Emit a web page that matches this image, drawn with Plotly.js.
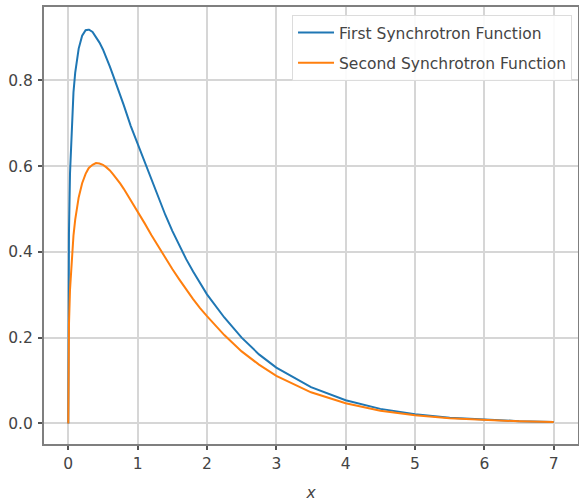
<!DOCTYPE html>
<html>
<head>
<meta charset="utf-8">
<script src="https://cdn.plot.ly/plotly-3.0.1.min.js"></script>
<style>html,body{margin:0;padding:0;background:#fff;}#chart{width:579px;height:504px;}</style>
</head>
<body>
<div id="chart"></div>
<script>
const xValues = [0, 0.001, 0.005, 0.01, 0.025, 0.05, 0.075, 0.1, 0.15, 0.2, 0.25, 0.29, 0.3, 0.35, 0.4, 0.45, 0.5, 0.55, 0.6, 0.65, 0.7, 0.75, 0.8, 0.9, 1.0, 1.1, 1.2, 1.3, 1.4, 1.5, 1.6, 1.7, 1.8, 1.9, 2.0, 2.25, 2.5, 2.75, 3.0, 3.5, 4.0, 4.5, 5.0, 5.5, 6.0, 6.5, 7.0];
const firstFunction = [0, 0.213, 0.358, 0.445, 0.583, 0.702, 0.772, 0.818, 0.874, 0.904, 0.917, 0.918, 0.918, 0.913, 0.901, 0.888, 0.872, 0.853, 0.832, 0.810, 0.788, 0.765, 0.742, 0.694, 0.652, 0.610, 0.566, 0.525, 0.486, 0.449, 0.414, 0.383, 0.354, 0.327, 0.301, 0.247, 0.200, 0.161, 0.130, 0.0845, 0.0541, 0.0339, 0.0214, 0.0134, 0.0085, 0.0053, 0.0033];
const secondFunction = [0, 0.107, 0.184, 0.231, 0.312, 0.388, 0.438, 0.475, 0.527, 0.560, 0.582, 0.594, 0.596, 0.603, 0.607, 0.606, 0.603, 0.597, 0.590, 0.580, 0.570, 0.559, 0.547, 0.521, 0.494, 0.467, 0.439, 0.412, 0.386, 0.360, 0.336, 0.312, 0.290, 0.269, 0.250, 0.206, 0.168, 0.137, 0.111, 0.0726, 0.0470, 0.0298, 0.0192, 0.0121, 0.0077, 0.0049, 0.0031];
const seriesNames = ["First Synchrotron Function", "Second Synchrotron Function"];
const xTicks = [0, 1, 2, 3, 4, 5, 6, 7];
const yTicks = [0.0, 0.2, 0.4, 0.6, 0.8];
const yTickLabels = ["0.0", "0.2", "0.4", "0.6", "0.8"];

const traces = [
  {x: xValues, y: firstFunction, name: seriesNames[0], legendgroup: 'a', type: 'scatter', mode: 'lines', line: {color: '#1f77b4', width: 2}},
  {x: xValues, y: secondFunction, name: seriesNames[1], legendgroup: 'b', type: 'scatter', mode: 'lines', line: {color: '#ff7f0e', width: 2}}
];

const axisCommon = {
  showline: true, mirror: true, linecolor: '#7f7f7f', linewidth: 2,
  showgrid: true, gridcolor: '#d6d6d6', gridwidth: 2,
  zeroline: false,
  ticks: 'outside', ticklen: 4, tickwidth: 2, tickcolor: '#555',
  tickfont: {family: 'DejaVu Sans', size: 15.5, color: '#444'}
};

const layout = {
  width: 579, height: 504,
  margin: {l: 44, r: 1, t: 7, b: 60},
  paper_bgcolor: '#fff', plot_bgcolor: '#fff',
  showlegend: true,
  legend: {
    x: 0.9888, y: 0.9817, xanchor: 'right', yanchor: 'top',
    bgcolor: 'rgba(255,255,255,0.9)', bordercolor: '#dcdcdc', borderwidth: 1,
    font: {family: 'DejaVu Sans', size: 15.5, color: '#444'},
    itemwidth: 36, traceorder: 'grouped', tracegroupgap: 7
  },
  xaxis: Object.assign({}, axisCommon, {
    range: [-0.35, 7.35], tickvals: xTicks,
    title: {text: '<i>x</i>', font: {family: 'DejaVu Sans', size: 15.5, color: '#444'}, standoff: 16}
  }),
  yaxis: Object.assign({}, axisCommon, {
    range: [-0.048, 0.971], tickvals: yTicks, ticktext: yTickLabels, ticklabelstandoff: 2
  })
};

Plotly.newPlot('chart', traces, layout, {displayModeBar: false, staticPlot: true});
</script>
</body>
</html>
